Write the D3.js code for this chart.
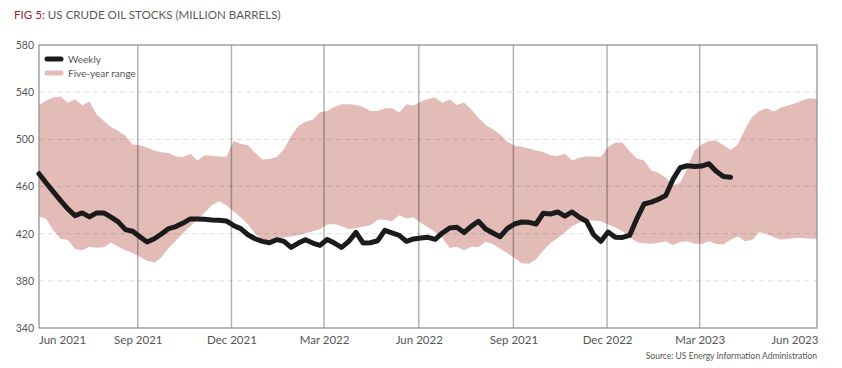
<!DOCTYPE html>
<html>
<head>
<meta charset="utf-8">
<script src="https://cdn.jsdelivr.net/npm/d3@7"></script>
<style>
  body { margin: 0; background: #fff; }
  text { font-family: Lato, "Open Sans", sans-serif; }
</style>
</head>
<body>
<div id="chart"></div>
<script>
// Weekly data, first week ending 28 May 2021
const startWeek = new Date(2021, 4, 28);

// Five-year range, top edge (million barrels)
const rangeHigh = [
  529, 533, 535.5, 536.3, 531, 534, 529, 532, 521, 515.6,
  510.5, 507, 503, 495.7, 495, 493, 490.6, 489, 488.4, 485.5,
  485, 487.8, 482, 486.4, 486, 485.5, 485, 498.6, 496.3, 495,
  488.7, 483, 483.3, 485, 491.5, 502.8, 511.3, 515, 516.7, 523,
  524.1, 527.5, 529.8, 529.8, 529.2, 527.5, 524.1, 524.1, 526.4, 526.4,
  522.7, 529.8, 528.7, 532, 534.3, 535.5, 531, 533.8, 529.2, 531.2,
  525.5, 518.4, 512.2, 508.5, 504.3, 498, 494.6, 493.8, 492.3, 490.6,
  489.2, 486.4, 485.8, 487.8, 482.1, 484.4, 485.5, 485.5, 485, 493.5,
  497.4, 497, 490, 483.8, 482.1, 473.6, 471.6, 467.4, 461.1, 463.1,
  475.9, 490.6, 495.7, 498.6, 499.1, 495.2, 490.9, 495.7, 508.5, 519,
  524.1, 526.4, 523.5, 527, 528.7, 530.6, 533.2, 534.9, 534.3
];

// Five-year range, bottom edge
const rangeLow = [
  434.5, 432.5, 422.5, 415.7, 414.6, 407, 406, 409, 408, 408.4,
  412.6, 409, 406, 403.5, 400.4, 397, 395.3, 400, 407.8, 414,
  420.6, 426.2, 432, 438, 444, 447.5, 444, 439, 434, 428,
  420, 415, 413, 413.5, 416.9, 417.7, 418.6, 420.3, 422, 423.7,
  427.7, 428.2, 426.2, 423.7, 424.8, 426, 427.1, 431.9, 431.9, 430.5,
  435.6, 432.8, 433.9, 429.1, 425.5, 421.4, 416.3, 407.8, 409, 405.8,
  409, 408.6, 412.9, 411.2, 407.2, 403.5, 399.3, 395, 394.5, 398.2,
  405.8, 411.8, 416.3, 421.1, 426.2, 429.4, 430.8, 431.1, 430.5, 427.7,
  425.4, 422, 416.9, 412.9, 411.8, 411.5, 412.3, 413.5, 410.1, 412.9,
  413.5, 411.5, 411.2, 413.5, 411.2, 410.9, 414.9, 417.7, 413.5, 414.6,
  421.4, 419.7, 416.9, 414.9, 415.7, 416.3, 416.3, 415.7, 415.7
];

// Weekly US crude oil stocks
const weekly = [
  470.8, 463, 455.5, 448, 441, 435.3, 437.6, 434.2, 437.6, 437.6,
  434, 430, 423.4, 422, 417.4, 413, 415.7, 419.7, 424.3, 426,
  429, 432.5, 432.5, 432.2, 431.6, 431.3, 430.8, 427, 424.3, 419.1,
  415.7, 413.5, 412.3, 414.9, 413.5, 408.4, 412, 414.9, 412, 410.1,
  415.1, 412, 408.4, 413.5, 421.1, 412, 412.3, 414, 422.8, 420.6,
  418.6, 413.5, 415.5, 416.3, 416.9, 415.2, 420.6, 424.8, 425.4, 420.9,
  426.2, 430.5, 424, 420.6, 417.4, 424.3, 428.2, 429.9, 429.6, 428.2,
  437.3, 436.7, 438.4, 434.8, 438.4, 433.9, 430.5, 419.1, 413.5, 421.4,
  416.9, 416.8, 418.6, 432.8, 445.2, 446.7, 449.2, 452.3, 466, 475.9,
  477.6, 477, 477.3, 479.3, 473, 468.5, 467.9
];

// Axis ticks
const yTicks = [340, 380, 420, 460, 500, 540, 580];
const xTickDates = [
  new Date(2021, 5, 1), new Date(2021, 8, 1), new Date(2021, 11, 1),
  new Date(2022, 2, 1), new Date(2022, 5, 1), new Date(2022, 8, 1),
  new Date(2022, 11, 1), new Date(2023, 2, 1), new Date(2023, 5, 1)
];
const xTickLabels = [
  "Jun 2021", "Sep 2021", "Dec 2021", "Mar 2022", "Jun 2022",
  "Sep 2021", "Dec 2022", "Mar 2023", "Jun 2023"
];

const width = 842, height = 368;
const margin = ({ top: 45, right: 25, bottom: 40, left: 39 });

const weekDate = i => d3.timeWeek.offset(startWeek, i);

const bandData = rangeHigh.map((hi, i) => ({ date: weekDate(i), hi, lo: rangeLow[i] }));
const lineData = weekly.map((v, i) => ({ date: weekDate(i), v }));

const xScale = d3.scaleTime()
  .domain([startWeek, weekDate(rangeHigh.length - 1)])
  .range([margin.left, width - margin.right]);
const yScale = d3.scaleLinear()
  .domain([340, 580])
  .range([height - margin.bottom, margin.top]);

const svg = d3.select("#chart").append("svg")
  .attr("width", width)
  .attr("height", height);

// Title
const title = svg.append("text")
  .attr("x", 14)
  .attr("y", 19)
  .attr("font-size", 11.6)
  .attr("fill", "#5a5a5a");
title.append("tspan").attr("fill", "#a3232b").text("FIG 5: ");
title.append("tspan").text("US CRUDE OIL STOCKS (MILLION BARRELS)");

// Five-year range band
svg.append("path")
  .datum(bandData)
  .attr("fill", "#e3bcb8")
  .attr("d", d3.area()
    .x(d => xScale(d.date))
    .y0(d => yScale(d.lo))
    .y1(d => yScale(d.hi)));

// Dashed horizontal gridlines
svg.append("g")
  .selectAll("line")
  .data(yTicks.slice(1, -1))
  .join("line")
    .attr("x1", margin.left)
    .attr("x2", width - margin.right)
    .attr("y1", d => yScale(d))
    .attr("y2", d => yScale(d))
    .style("stroke", "rgba(0,0,0,0.13)")
    .style("stroke-dasharray", "5,4");

// Vertical gridlines at quarter marks
svg.append("g")
  .selectAll("line")
  .data(xTickDates.slice(1, -1))
  .join("line")
    .attr("x1", d => xScale(d))
    .attr("x2", d => xScale(d))
    .attr("y1", margin.top)
    .attr("y2", height - margin.bottom)
    .style("stroke", "rgba(0,0,0,0.3)")
    .style("stroke-width", 1.5);

// Frame
svg.append("rect")
  .attr("x", margin.left)
  .attr("y", margin.top)
  .attr("width", width - margin.right - margin.left)
  .attr("height", height - margin.bottom - margin.top)
  .attr("fill", "none")
  .attr("stroke", "#8a8a8a")
  .attr("stroke-width", 1.2);

// Weekly line
svg.append("path")
  .datum(lineData)
  .attr("fill", "none")
  .attr("stroke", "#1b1b1b")
  .attr("stroke-width", 5)
  .attr("stroke-linejoin", "round")
  .attr("stroke-linecap", "round")
  .attr("d", d3.line()
    .x(d => xScale(d.date))
    .y(d => yScale(d.v)));

// Y axis
const yAxis = svg.append("g")
  .attr("transform", `translate(${margin.left},0)`)
  .call(d3.axisLeft(yScale).tickValues(yTicks).tickSize(0).tickPadding(5));
yAxis.select(".domain").remove();
yAxis.selectAll("text")
  .attr("font-family", "Lato, 'Open Sans', sans-serif")
  .attr("font-size", 10.5)
  .attr("fill", "#555");

// X axis
const xAxis = svg.append("g")
  .attr("transform", `translate(0,${height - margin.bottom})`)
  .call(d3.axisBottom(xScale)
    .tickValues(xTickDates)
    .tickFormat((d, i) => xTickLabels[i])
    .tickSize(0)
    .tickPadding(8));
xAxis.select(".domain").remove();
xAxis.selectAll("text")
  .attr("font-family", "Lato, 'Open Sans', sans-serif")
  .attr("font-size", 11.5)
  .attr("fill", "#555");
xAxis.selectAll(".tick").filter((d, i) => i === 0)
  .attr("transform", `translate(${margin.left},0)`)
  .select("text").attr("text-anchor", "start");

// Legend
const legend = svg.append("g").attr("transform", "translate(45,59)");
const items = [
  { label: "Weekly", color: "#1b1b1b" },
  { label: "Five-year range", color: "#e3bcb8" }
];
items.forEach((d, i) => {
  legend.append("line")
    .attr("x1", 2).attr("x2", 16)
    .attr("y1", i * 14).attr("y2", i * 14)
    .attr("stroke", d.color)
    .attr("stroke-width", 5)
    .attr("stroke-linecap", "round");
  legend.append("text")
    .attr("x", 23)
    .attr("y", i * 14)
    .attr("dy", "0.35em")
    .attr("font-size", 10)
    .attr("fill", "#555")
    .text(d.label);
});

// Source note
svg.append("text")
  .attr("x", width - margin.right)
  .attr("y", 359)
  .attr("text-anchor", "end")
  .attr("font-size", 8.5)
  .attr("fill", "#555")
  .text("Source: US Energy Information Administration");
</script>
</body>
</html>
